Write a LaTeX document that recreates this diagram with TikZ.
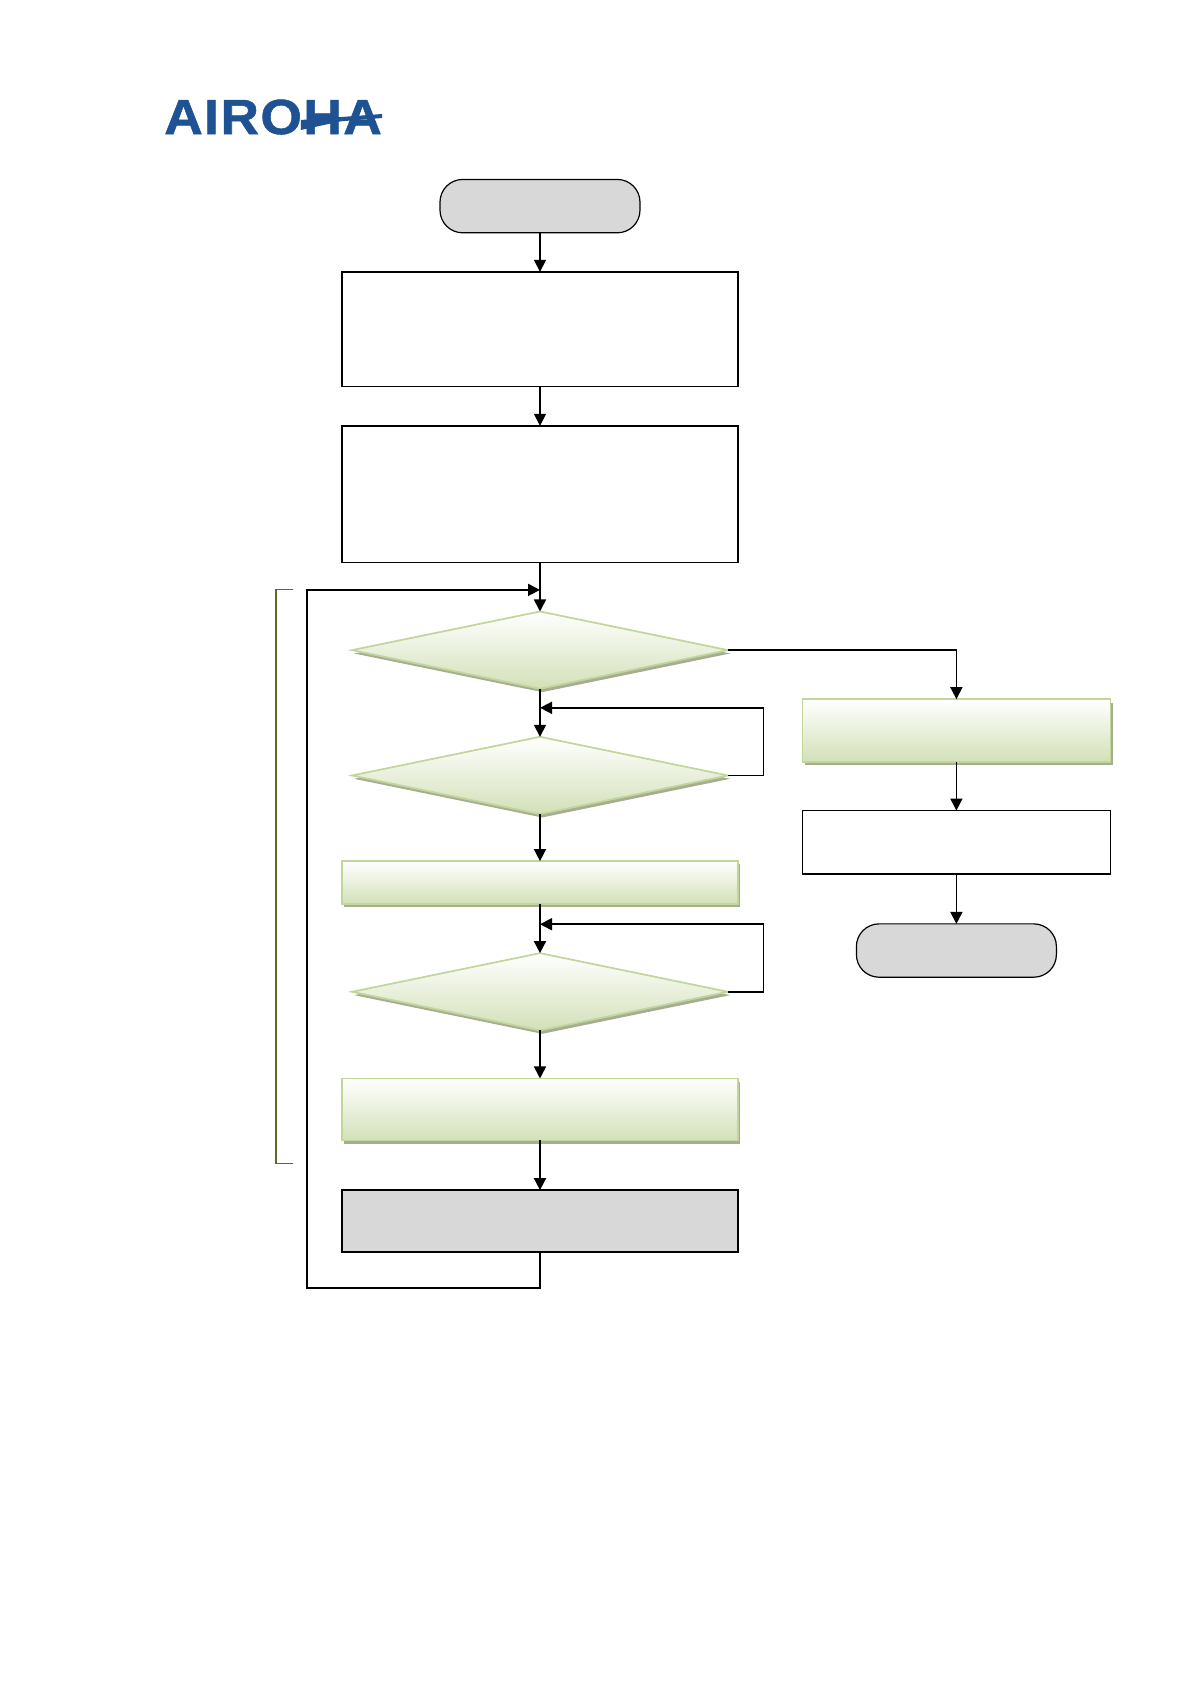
\documentclass[tikz,border=0pt]{standalone}
\usepackage{fontspec}
\newfontfamily\logofont{Liberation Sans}[LetterSpace=3,FakeStretch=1.08,FakeBold=1.2]
\usetikzlibrary{arrows.meta,positioning,calc,shapes.geometric,shadows}
\definecolor{greybox}{HTML}{D8D8D8}
\definecolor{greenedge}{HTML}{C2D69B}
\definecolor{greenlow}{HTML}{D3E0B8}
\definecolor{greenshade}{HTML}{A6AE92}
\definecolor{brkcol}{HTML}{5B6B2E}
\definecolor{logoblue}{HTML}{1F5293}
\tikzset{
  proc/.style={draw, line width=1.25pt, inner sep=0pt, outer sep=0pt, minimum width=297pt},
  term/.style={draw, fill=greybox, line width=.9pt, rounded corners=17pt, inner sep=0pt,
               outer sep=0pt, minimum width=150pt, minimum height=40pt},
  glow/.style={draw=greenedge, line width=1.3pt, top color=white, bottom color=greenlow,
               drop shadow={shadow xshift=1.6pt, shadow yshift=-2.5pt, fill=greenshade, opacity=1}},
  act/.style={proc, glow},
  dec/.style={diamond, glow, inner sep=0pt, outer sep=0pt, minimum width=282pt, minimum height=58pt},
  sig/.style={-{Triangle[length=9pt,width=9pt]}, line width=1.25pt},
  brk/.style={draw=brkcol, line width=.8pt},
}
\begin{document}
\begin{tikzpicture}[node distance=36pt]
    \useasboundingbox (0,0) rectangle (892.5pt,-1263pt);
    \node[anchor=base west, inner sep=0pt, text=logoblue, font=\logofont\fontsize{37}{37}\selectfont\bfseries]
      (logo) at (123pt,-100.5pt) {AIROHA};
    \fill[logoblue] (logo.base east) ++(0,15pt) -- ++(0,-3pt) -- ++(-31pt,-2.5pt)
      -- ++(-30pt,-6.5pt) -- ++(0,7.5pt) -- cycle;

    \node[term] (start) at (405pt,-154.6pt) {};
    \node[proc,minimum height=86pt,below=29.25pt of start] (init) {};
    \node[proc,minimum height=102.5pt,below=29.5pt of init] (conf) {};
    \node[dec,below=36.75pt of conf] (check) {};
    \node[dec,below=36pt of check] (waita) {};
    \node[act,minimum height=32.25pt,below=35.25pt of waita] (send) {};
    \node[dec,below=36.75pt of send] (waitb) {};
    \node[act,minimum height=46.5pt,below=36pt of waitb] (read) {};
    \node[proc,fill=greybox,minimum height=46.5pt,below=37.25pt of read] (work) {};

    \node[act,minimum width=231pt,minimum height=47pt,anchor=north west,
      below right=36.8pt and 55.8pt of check.east] (stop) {};
    \node[proc,minimum width=231pt,minimum height=47.5pt,below=36.5pt of stop] (off) {};
    \node[term,below=37.5pt of off] (finish) {};

    \coordinate (joina) at ($(conf.south)!.56!(check.north)$);
    \coordinate (joinb) at ($(check.south)!.396!(waita.north)$);
    \coordinate (joinc) at ($(send.south)!.41!(waitb.north)$);
    \coordinate[below left=27pt and 175pt of work.south] (back);
    \coordinate[left=185pt of joina] (brktop);
    \coordinate[below left=17.25pt and 185pt of read.south] (brkbot);

    \draw[sig] (start) -- (init);
    \draw[sig] (init) -- (conf);
    \draw[sig] (conf) -- (check);
    \draw[sig] (check) -- (waita);
    \draw[sig] (waita) -- (send);
    \draw[sig] (send) -- (waitb);
    \draw[sig] (waitb) -- (read);
    \draw[sig] (read) -- (work);
    \draw[sig] (check.east) -| (stop.north);
    \draw[sig] (stop) -- (off);
    \draw[sig] (off) -- (finish);
    \draw[sig] (waita.east) -- ++(26.5pt,0) |- (joinb);
    \draw[sig] (waitb.east) -- ++(26.5pt,0) |- (joinc);
    \draw[sig] (work.south) |- (back) |- (joina);
    \draw[brk] (brktop) -- ++(-13pt,0) |- (brkbot);
\end{tikzpicture}
\end{document}
